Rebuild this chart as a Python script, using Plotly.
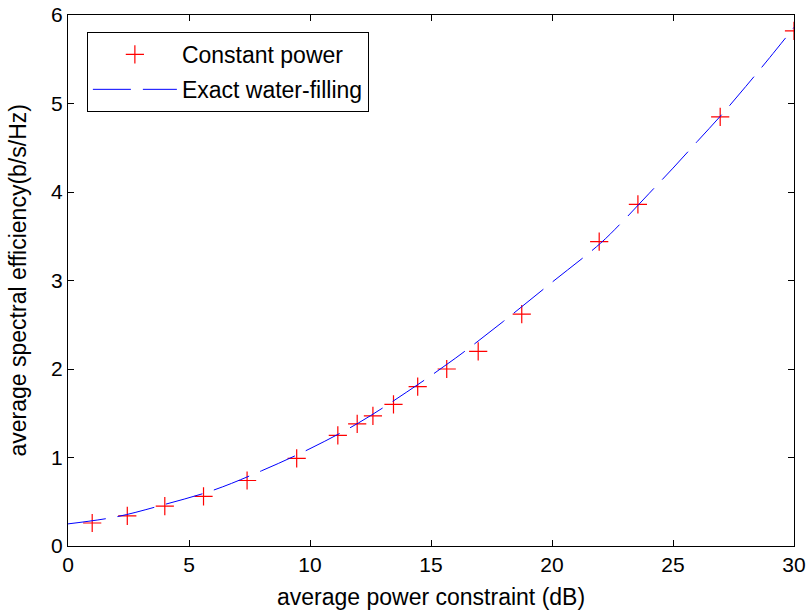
import plotly.graph_objects as go

# Constant power (markers)
cp_x = [1.0, 2.45, 4.0, 5.6, 7.4, 9.45, 11.15, 11.95, 12.6, 13.45, 14.45, 15.65, 16.95, 18.75, 21.95, 23.55, 26.95, 30.0]
cp_y = [0.26, 0.34, 0.45, 0.56, 0.74, 0.99, 1.25, 1.38, 1.47, 1.60, 1.80, 2.00, 2.20, 2.62, 3.44, 3.86, 4.85, 5.82]

# Exact water-filling (dashed curve)
wf_x = [0, 2, 4, 6, 8, 10, 12, 14, 16, 18, 20, 22, 23, 24, 25, 26, 27, 28, 29, 30]
wf_y = [0.25, 0.33, 0.47, 0.63, 0.85, 1.10, 1.39, 1.74, 2.12, 2.54, 2.98, 3.42, 3.69, 3.98, 4.27, 4.57, 4.87, 5.19, 5.52, 5.86]

x_ticks = [0, 5, 10, 15, 20, 25, 30]
y_ticks = [0, 1, 2, 3, 4, 5, 6]

x_title = "average power constraint (dB)"
y_title = "average spectral efficiency(b/s/Hz)"

FONT = "Liberation Sans"

fig = go.Figure()
fig.add_trace(go.Scatter(
    x=cp_x, y=cp_y, mode="markers", name="Constant power",
    legendgroup="a",
    marker=dict(symbol="cross-thin", size=13, color="red",
                line=dict(color="red", width=1.2)),
))
fig.add_trace(go.Scatter(
    x=wf_x, y=wf_y, mode="lines", name="Exact water-filling",
    legendgroup="b", line_shape="spline",
    line=dict(color="blue", width=1, dash="38px,12px"),
))

axis_common = dict(
    showgrid=False, zeroline=False, showline=True, linecolor="black",
    linewidth=1, mirror="ticks", ticks="inside", ticklen=6,
    tickcolor="black", tickfont=dict(family=FONT, size=21, color="black"),
    automargin=False, ticklabeloverflow="allow",
)

fig.update_layout(
    width=809, height=613,
    margin=dict(l=68, r=15, t=15, b=67),
    paper_bgcolor="white", plot_bgcolor="white",
    font=dict(family=FONT, size=21, color="black"),
    xaxis=dict(range=[0, 30], tickvals=x_ticks, **axis_common),
    yaxis=dict(range=[0, 6], tickvals=y_ticks, **axis_common),
    legend=dict(x=0.026, y=0.968, xanchor="left", yanchor="top",
                bordercolor="black", borderwidth=1, bgcolor="white",
                font=dict(family=FONT, size=23), itemwidth=84,
                tracegroupgap=2),
    showlegend=True,
    annotations=[
        dict(text=x_title, xref="paper", yref="paper", x=0.5, y=-0.096,
             xanchor="center", yanchor="middle", showarrow=False,
             font=dict(family=FONT, size=23, color="black")),
        dict(text=y_title, xref="paper", yref="paper", x=-0.0689, y=0.5,
             xanchor="center", yanchor="middle", showarrow=False, textangle=-90,
             font=dict(family=FONT, size=23, color="black")),
    ],
)

fig.write_html("out.html")
